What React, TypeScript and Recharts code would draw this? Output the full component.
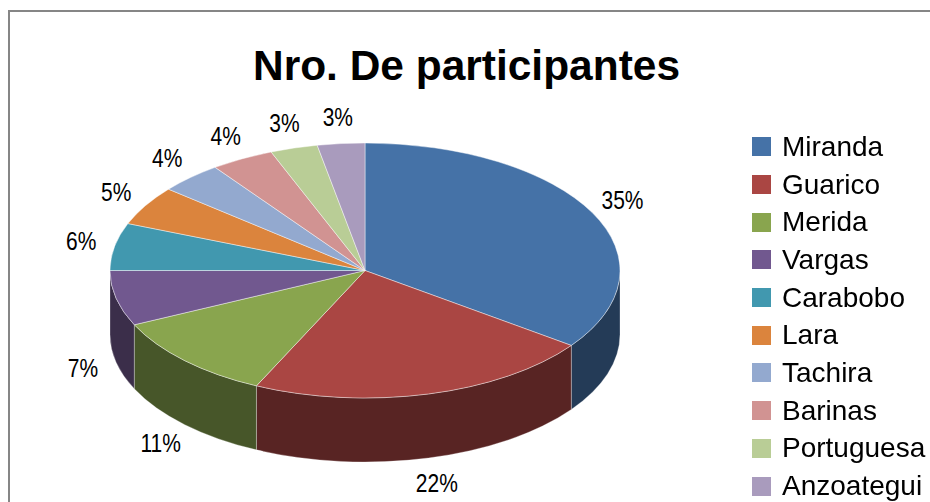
import { PieChart, Pie, Cell, Legend } from "recharts";

const NAMES = [
  "Miranda",
  "Guarico",
  "Merida",
  "Vargas",
  "Carabobo",
  "Lara",
  "Tachira",
  "Barinas",
  "Portuguesa",
  "Anzoategui",
];
const SHARES = [35, 22, 11, 7, 6, 5, 4, 4, 3, 3];
const COLORS = [
  "#4572A7",
  "#AA4643",
  "#89A54E",
  "#71588F",
  "#4198AF",
  "#DB843D",
  "#93A9CF",
  "#D19392",
  "#B9CD96",
  "#A99BBD",
];

const data = NAMES.map((name, i) => ({ name, value: SHARES[i] }));

const TILT = 0.5; // vertical squash of the pie top
const DEPTH = 64; // thickness of the side wall
const FONT = "'Liberation Sans', Arial, sans-serif";

const shade = (hex: string, k: number) => {
  const n = parseInt(hex.slice(1), 16);
  const c = [(n >> 16) & 255, (n >> 8) & 255, n & 255].map((v) => Math.round(v * k));
  return `rgb(${c.join(",")})`;
};

// draws one slice as a tilted disc piece: top face + visible front wall
function Slice3D(props: any) {
  const { cx, cy, outerRadius, startAngle, endAngle, fill } = props;
  const rx = outerRadius;
  const ry = outerRadius * TILT;
  const pt = (a: number, dy = 0) => {
    const r = (a * Math.PI) / 180;
    return `${cx + rx * Math.cos(r)},${cy - ry * Math.sin(r) + dy}`;
  };
  const s = Math.max(startAngle, endAngle);
  const e = Math.min(startAngle, endAngle);
  const large = s - e > 180 ? 1 : 0;
  const top = `M${cx},${cy} L${pt(s)} A${rx},${ry} 0 ${large} 1 ${pt(e)} Z`;

  const a1 = Math.min(s, 0);
  const a2 = Math.max(e, -180);
  let wall = null;
  if (a1 > a2) {
    const d = `M${pt(a1)} A${rx},${ry} 0 0 1 ${pt(a2)} L${pt(a2, DEPTH)} A${rx},${ry} 0 0 0 ${pt(a1, DEPTH)} Z`;
    wall = (
      <path d={d} fill={shade(fill, 0.52)} stroke="#ffffff" strokeOpacity={0.35} strokeWidth={0.8} />
    );
  }
  return (
    <g>
      {wall}
      <path d={top} fill={fill} stroke="#ffffff" strokeOpacity={0.55} strokeWidth={0.8} />
    </g>
  );
}

function renderLabel(props: any) {
  const { cx, cy, midAngle, outerRadius, percent } = props;
  const r = (midAngle * Math.PI) / 180;
  const sin = Math.sin(r);
  const x = cx + (outerRadius + 34) * Math.cos(r);
  const y = cy - (outerRadius * TILT + 26) * sin + (sin < 0 ? DEPTH : 0);
  return (
    <g transform={`translate(${x},${y})`}>
      <text
        transform="scale(0.84,1)"
        textAnchor="middle"
        dominantBaseline="central"
        fontFamily={FONT}
        fontSize={25}
        fill="#000"
      >
        {`${Math.round(percent * 100)}%`}
      </text>
    </g>
  );
}

// legend kept in data order (recharts sorts it by name otherwise)
function renderLegend() {
  return (
    <ul style={{ listStyle: "none", margin: 0, padding: 0 }}>
      {NAMES.map((name, i) => (
        <li
          key={`item-${i}`}
          style={{ display: "flex", alignItems: "center", height: 37.7 }}
        >
          <span
            style={{
              display: "inline-block",
              width: 19,
              height: 19,
              marginRight: 11,
              background: COLORS[i],
            }}
          />
          <span
            style={{
              fontFamily: FONT,
              fontSize: 28,
              color: "#000",
              lineHeight: 1,
              whiteSpace: "nowrap",
            }}
          >
            {name}
          </span>
        </li>
      ))}
    </ul>
  );
}

export default function App() {
  // fixed frame so the part that runs past the window adds no scrollbars
  return (
    <div
      style={{
        position: "fixed",
        left: 8,
        top: 10,
        width: 924,
        height: 500,
        border: "2px solid #868686",
        background: "#fff",
      }}
    >
      <PieChart width={920} height={490}>
        <text
          x={456.5}
          y={68}
          textAnchor="middle"
          fontFamily={FONT}
          fontWeight="bold"
          fontSize={42}
          textLength={427}
          lengthAdjust="spacingAndGlyphs"
          fill="#000"
        >
          Nro. De participantes
        </text>
        <Pie
          data={data}
          dataKey="value"
          nameKey="name"
          cx={350}
          cy={253.5}
          outerRadius={255}
          startAngle={90}
          endAngle={-270}
          shape={Slice3D}
          label={renderLabel}
          labelLine={false}
          isAnimationActive={false}
        >
          {data.map((entry, index) => (
            <Cell key={`cell-${index}`} fill={COLORS[index]} />
          ))}
        </Pie>
        <Legend
          layout="vertical"
          align="right"
          verticalAlign="top"
          content={renderLegend}
          wrapperStyle={{ left: 742, top: 116, width: 200 }}
        />
      </PieChart>
    </div>
  );
}
